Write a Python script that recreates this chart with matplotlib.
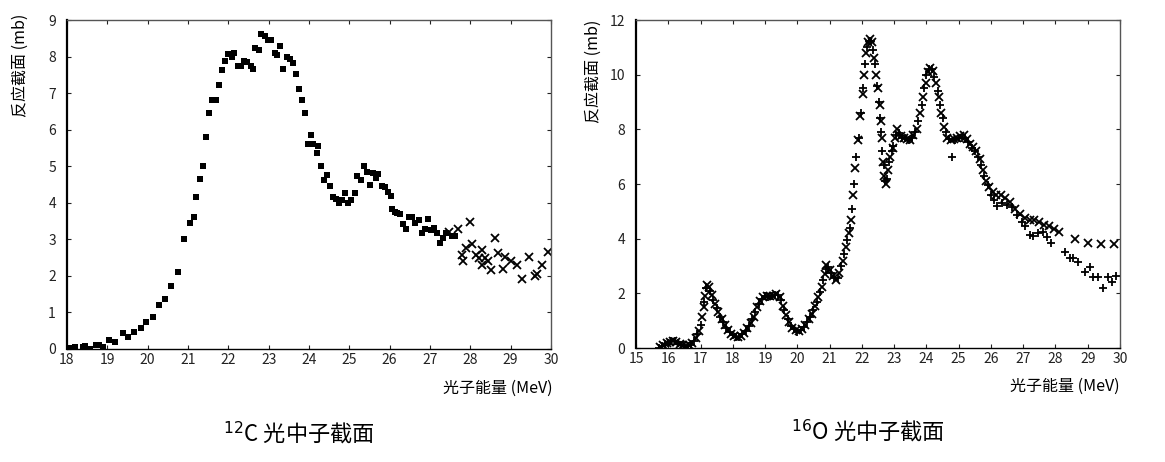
import matplotlib
matplotlib.use('Agg')
import matplotlib.pyplot as plt

plt.rcParams['font.family'] = ['Noto Sans CJK SC', 'DejaVu Sans']

# 12C photoneutron cross section (square markers, then x markers in the tail)
c_sq_e = [18.06, 18.2, 18.4, 18.45, 18.57, 18.73, 18.8, 18.9, 19.05, 19.2, 19.38, 19.52,
          19.67, 19.83, 19.97, 20.13, 20.28, 20.44, 20.59, 20.76, 20.9, 21.06, 21.14, 21.21,
          21.3, 21.37, 21.44, 21.52, 21.6, 21.7, 21.77, 21.84, 21.92, 22.0, 22.08, 22.15,
          22.24, 22.32, 22.4, 22.47, 22.55, 22.61, 22.67, 22.75, 22.82, 22.9, 22.99, 23.07,
          23.16, 23.21, 23.28, 23.36, 23.45, 23.53, 23.6, 23.69, 23.75, 23.82, 23.9, 23.98,
          24.05, 24.11, 24.2, 24.23, 24.29, 24.36, 24.44, 24.52, 24.6, 24.68, 24.74, 24.82,
          24.9, 24.97, 25.05, 25.13, 25.2, 25.3, 25.36, 25.43, 25.51, 25.58, 25.66, 25.72,
          25.81, 25.88, 25.95, 26.03, 26.06, 26.12, 26.19, 26.26, 26.33, 26.41, 26.49, 26.56,
          26.64, 26.72, 26.79, 26.87, 26.95, 27.02, 27.1, 27.18, 27.25, 27.32, 27.4, 27.55,
          27.62]
c_sq_s = [0.04, 0.06, 0.06, 0.07, 0.0, 0.1, 0.1, 0.06, 0.25, 0.18, 0.43, 0.34,
          0.46, 0.57, 0.75, 0.87, 1.19, 1.36, 1.72, 2.11, 3.0, 3.46, 3.62, 4.15,
          4.65, 5.0, 5.8, 6.45, 6.81, 6.81, 7.22, 7.62, 7.88, 8.06, 8.0, 8.1,
          7.73, 7.75, 7.88, 7.84, 7.73, 7.67, 8.23, 8.17, 8.61, 8.55, 8.46, 8.44,
          8.1, 8.05, 8.3, 7.65, 8.0, 7.92, 7.82, 7.52, 7.1, 6.81, 6.45, 5.62,
          5.85, 5.62, 5.35, 5.55, 5.0, 4.62, 4.75, 4.45, 4.15, 4.1, 4.0, 4.07,
          4.27, 4.0, 4.08, 4.28, 4.72, 4.62, 5.0, 4.83, 4.5, 4.82, 4.67, 4.8,
          4.45, 4.43, 4.3, 4.18, 3.84, 3.75, 3.72, 3.7, 3.43, 3.27, 3.6, 3.62,
          3.46, 3.52, 3.17, 3.27, 3.56, 3.26, 3.32, 3.17, 2.9, 3.05, 3.17, 3.1,
          3.1]
c_x_e = [27.47, 27.7, 27.8, 27.83, 27.9, 27.98, 28.05, 28.14, 28.21, 28.28, 28.3, 28.37,
         28.45, 28.52, 28.62, 28.69, 28.82, 28.85, 29.0, 29.15, 29.28, 29.45, 29.6, 29.66,
         29.77, 29.92]
c_x_s = [3.2, 3.27, 2.58, 2.4, 2.76, 3.47, 2.88, 2.58, 2.49, 2.72, 2.3, 2.49,
         2.4, 2.16, 3.05, 2.63, 2.18, 2.52, 2.4, 2.3, 1.92, 2.52, 2.0, 2.04,
         2.3, 2.65]

# 16O photoneutron cross section, two data sets ('x' and '+')
o_x_e = [15.75, 15.85, 15.95, 16.05, 16.15, 16.25, 16.35, 16.45, 16.55, 16.65, 16.75, 16.85,
         16.95, 17.05, 17.1, 17.15, 17.2, 17.25, 17.35, 17.45, 17.55, 17.65, 17.75, 17.85,
         17.95, 18.05, 18.15, 18.25, 18.35, 18.45, 18.55, 18.65, 18.75, 18.85, 18.95, 19.05,
         19.15, 19.25, 19.35, 19.45, 19.55, 19.65, 19.75, 19.85, 19.95, 20.05, 20.15, 20.25,
         20.35, 20.45, 20.55, 20.65, 20.75, 20.85, 20.9, 21.0, 21.1, 21.2, 21.3, 21.4,
         21.5, 21.6, 21.65, 21.72, 21.8, 21.87, 21.95, 22.02, 22.08, 22.13, 22.2, 22.25,
         22.3, 22.38, 22.45, 22.5, 22.55, 22.58, 22.62, 22.65, 22.7, 22.75, 22.82, 22.88,
         22.95, 23.02, 23.1, 23.2, 23.3, 23.4, 23.5, 23.6, 23.7, 23.8, 23.9, 23.98,
         24.05, 24.12, 24.2, 24.3, 24.38, 24.46, 24.55, 24.65, 24.75, 24.85, 24.95, 25.05,
         25.15, 25.25, 25.35, 25.45, 25.55, 25.65, 25.75, 25.85, 25.95, 26.05, 26.15, 26.3,
         26.45, 26.6, 26.75, 26.9, 27.05, 27.2, 27.35, 27.5, 27.65, 27.8, 27.95, 28.12,
         28.6, 29.02, 29.4, 29.8]
o_x_s = [0.02, 0.12, 0.18, 0.22, 0.27, 0.22, 0.15, 0.12, 0.08, 0.1, 0.18, 0.35,
         0.62, 1.15, 1.5, 1.9, 2.3, 2.25, 1.95, 1.6, 1.3, 1.05, 0.85, 0.65,
         0.52, 0.45, 0.42, 0.45, 0.55, 0.72, 0.9, 1.15, 1.5, 1.72, 1.88, 1.92,
         1.9, 1.92, 1.98, 1.88, 1.55, 1.2, 0.95, 0.72, 0.65, 0.62, 0.7, 0.85,
         1.05, 1.25, 1.55, 1.85, 2.25, 2.7, 3.05, 2.85, 2.65, 2.5, 2.75, 3.2,
         3.7, 4.2, 4.7, 5.6, 6.6, 7.6, 8.5, 9.3, 10.0, 10.8, 11.2, 11.3,
         11.2, 10.6, 10.0, 9.5, 8.9, 8.3, 7.7, 6.8, 6.3, 6.0, 6.5, 7.0,
         7.3, 7.7, 8.0, 7.75, 7.7, 7.65, 7.6, 7.8, 8.0, 8.6, 9.2, 9.7,
         10.1, 10.25, 10.15, 9.7, 9.2, 8.6, 8.1, 7.7, 7.6, 7.65, 7.7, 7.75,
         7.8, 7.65, 7.45, 7.35, 7.2, 6.9, 6.5, 6.1, 5.9, 5.7, 5.6, 5.6,
         5.5, 5.35, 5.1, 4.9, 4.75, 4.7, 4.7, 4.6, 4.5, 4.45, 4.35, 4.25,
         4.0, 3.85, 3.82, 3.82]
o_p_e = [15.7, 15.8, 15.9, 16.0, 16.1, 16.2, 16.3, 16.4, 16.5, 16.6, 16.7, 16.8,
         16.9, 17.0, 17.12, 17.18, 17.3, 17.4, 17.5, 17.6, 17.7, 17.8, 17.9, 18.0,
         18.1, 18.2, 18.3, 18.4, 18.5, 18.6, 18.7, 18.8, 18.9, 19.0, 19.1, 19.2,
         19.3, 19.4, 19.5, 19.6, 19.7, 19.8, 19.9, 20.0, 20.1, 20.2, 20.3, 20.4,
         20.5, 20.6, 20.7, 20.8, 20.88, 20.95, 21.05, 21.15, 21.25, 21.35, 21.45, 21.55,
         21.62, 21.68, 21.75, 21.83, 21.9, 21.98, 22.05, 22.1, 22.17, 22.22, 22.28, 22.35,
         22.42, 22.48, 22.52, 22.56, 22.6, 22.63, 22.68, 22.72, 22.78, 22.85, 22.92, 22.98,
         23.05, 23.15, 23.25, 23.35, 23.45, 23.55, 23.65, 23.75, 23.85, 23.93, 24.0, 24.08,
         24.16, 24.25, 24.35, 24.42, 24.5, 24.6, 24.7, 24.8, 24.9, 25.0, 25.1, 25.2,
         25.3, 25.4, 25.5, 25.6, 25.7, 25.8, 25.9, 26.0, 26.1, 26.2, 26.35, 26.5,
         26.65, 26.8, 26.95, 27.05, 27.2, 27.3, 27.45, 27.6, 27.75, 27.85, 28.28, 28.44,
         28.55, 28.7, 28.9, 29.08, 29.16, 29.31, 29.47, 29.62, 29.74, 29.89]
o_p_s = [0.0, 0.08, 0.15, 0.2, 0.25, 0.25, 0.2, 0.12, 0.1, 0.08, 0.12, 0.25,
         0.5, 0.85, 1.7, 2.2, 2.1, 1.75, 1.45, 1.15, 0.95, 0.75, 0.58, 0.48,
         0.42, 0.42, 0.5, 0.62, 0.82, 1.05, 1.3, 1.6, 1.8, 1.9, 1.88, 1.9,
         1.95, 1.95, 1.75, 1.4, 1.05, 0.8, 0.68, 0.6, 0.65, 0.78, 0.95, 1.15,
         1.4, 1.7, 2.05, 2.5, 2.9, 2.95, 2.75, 2.55, 2.55, 3.0, 3.45, 3.95,
         4.4, 5.1, 6.0, 7.0, 7.7, 8.6, 9.5, 10.4, 11.0, 11.25, 11.25, 10.9,
         10.4, 9.6, 9.0, 8.4, 7.9, 7.2, 6.7, 6.1, 6.2, 6.8, 7.2, 7.4,
         7.8, 7.85, 7.7, 7.7, 7.6, 7.7, 7.9, 8.3, 8.9, 9.5, 10.0, 10.2,
         10.2, 9.9, 9.4, 8.9, 8.4, 7.9, 7.65, 7.0, 7.6, 7.7, 7.7, 7.7,
         7.55, 7.3, 7.2, 7.0, 6.7, 6.3, 5.95, 5.6, 5.4, 5.2, 5.3, 5.25,
         5.15, 4.85, 4.6, 4.45, 4.15, 4.1, 4.2, 4.25, 4.05, 3.85, 3.52, 3.3,
         3.28, 3.16, 2.79, 2.97, 2.6, 2.6, 2.18, 2.6, 2.42, 2.63]

W, H = 1165, 462
fig = plt.figure(figsize=(W / 100, H / 100), dpi=100)
ax1 = fig.add_axes([67 / W, 1 - 349 / H, (551 - 67) / W, (349 - 20) / H])
ax2 = fig.add_axes([636 / W, 1 - 348 / H, (1120 - 636) / W, (348 - 20) / H])

ax1.plot(c_sq_e, c_sq_s, 's', color='black', ms=5, mew=0)
ax1.plot(c_x_e, c_x_s, 'x', color='black', ms=5.5, mew=1.3)
ax1.set_xlim(18, 30)
ax1.set_ylim(0, 9)
ax1.set_xticks(range(18, 31))
ax1.set_yticks(range(0, 10))

ax2.plot(o_x_e, o_x_s, 'x', color='black', ms=5.5, mew=1.3)
ax2.plot(o_p_e, o_p_s, '+', color='black', ms=5.5, mew=1.3)
ax2.set_xlim(15, 30)
ax2.set_ylim(0, 12)
ax2.set_xticks(range(15, 31))
ax2.set_yticks(range(0, 13, 2))

for ax in (ax1, ax2):
    ax.tick_params(direction='in', length=3, width=0.8, top=True, right=True,
                   labelsize=10, colors='#222222')
    ax.tick_params(axis='y', pad=8)
    ax.tick_params(axis='x', pad=3)
    for side in ('top', 'right'):
        ax.spines[side].set_color('#555555')
        ax.spines[side].set_linewidth(1.0)
    ax.spines['left'].set_linewidth(1.6)
    ax.spines['bottom'].set_linewidth(1.0)

# axis labels and captions
fig.text(553 / W, 1 - 388 / H, '光子能量 (MeV)', ha='right', va='center', fontsize=11.5)
fig.text(1120 / W, 1 - 386 / H, '光子能量 (MeV)', ha='right', va='center', fontsize=11.5)
fig.text(20 / W, 1 - 14 / H, '反应截面 (mb)', rotation=90, ha='center', va='top', fontsize=11.5)
fig.text(593 / W, 1 - 20 / H, '反应截面 (mb)', rotation=90, ha='center', va='top', fontsize=11.5)
fig.text(299 / W, 1 - 433 / H, r'$^{12}$C 光中子截面', ha='center', va='center', fontsize=16)
fig.text(868 / W, 1 - 431 / H, r'$^{16}$O 光中子截面', ha='center', va='center', fontsize=16)

fig.savefig('out.png', dpi=100)
